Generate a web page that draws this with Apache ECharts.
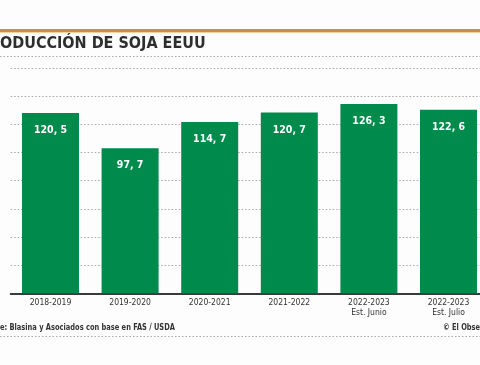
<!DOCTYPE html>
<html><head><meta charset="utf-8">
<script src="https://cdn.jsdelivr.net/npm/echarts@6/dist/echarts.min.js"></script>
<style>html,body{margin:0;padding:0;background:#fdfdfd;overflow:hidden;width:480px;height:365px;}#c{width:492px;height:365px;}</style>
</head><body><div id="c"></div>
<script>
const categories = ['2018-2019','2019-2020','2020-2021','2021-2022','2022-2023\nEst. Junio','2022-2023\nEst. Julio'];
const production = [120.5, 97.7, 114.7, 120.7, 126.3, 122.6];
const titleText = 'PRODUCCIÓN DE SOJA EEUU';
const sourceText = 'Fuente: Blasina y Asociados con base en FAS / USDA';
const creditText = '© El Observador';

const FONT = '"DejaVu Sans Condensed","Liberation Sans Narrow","Liberation Sans",sans-serif';
function tw(t, font){const c=document.createElement('canvas').getContext('2d');c.font=font;return c.measureText(t).width;}
const titleFont = 'bold 16px ' + FONT;
const srcFont = 'bold 9.5px ' + FONT;
const srcScale = 0.78;
const titleX = -tw('PR', titleFont);
const srcX = -tw('Fuent', srcFont) * srcScale;

const chart = echarts.init(document.getElementById('c'), null, {renderer:'canvas'});
chart.setOption({
  backgroundColor: '#fdfdfd',
  animation: false,
  grid: {left: 10.7, width: 477.6, top: 68, height: 225.3, containLabel: false},
  xAxis: {
    type: 'category', data: categories,
    axisLine: {show: true, lineStyle: {color: '#3a3a3a', width: 2}},
    axisTick: {show: false},
    axisLabel: {color: '#333', fontFamily: FONT, fontSize: 8.5, lineHeight: 9.5, margin: 5, interval: 0}
  },
  yAxis: [
    {type: 'value', min: 4, max: 149.5, show: false, splitLine: {show: false}},
    {type: 'value', min: 0, max: 8, interval: 1, axisLabel: {show: false}, axisLine: {show: false}, axisTick: {show: false},
     splitLine: {show: true, lineStyle: {color: '#a8a8a8', type: [1.5, 2], width: 1}}}
  ],
  series: [{
    type: 'bar', data: production, yAxisIndex: 0, barWidth: 57,
    itemStyle: {color: '#008a4b'},
    label: {show: true, position: 'insideTop', distance: 12, color: '#fff', fontFamily: FONT, fontWeight: 'bold', fontSize: 10.5,
      formatter: p => p.value.toFixed(1).replace('.', ', ')}
  }],
  graphic: [
    {type: 'rect', shape: {x: 0, y: 29, width: 492, height: 3}, style: {fill: '#d48a3e'}},
    {type: 'rect', shape: {x: 0, y: 32, width: 492, height: 1}, style: {fill: '#f3cfa3'}},
    {type: 'text', x: titleX, y: 44, style: {text: titleText, font: titleFont, fill: '#2e2e2e', textVerticalAlign: 'middle'}},
    {type: 'line', shape: {x1: 0, y1: 56.5, x2: 492, y2: 56.5}, style: {stroke: '#a8a8a8', lineWidth: 1, lineDash: [1.5, 2]}},
    {type: 'text', x: srcX, y: 328, scaleX: srcScale, style: {text: sourceText, font: srcFont, fill: '#333', textVerticalAlign: 'middle'}},
    {type: 'text', x: 443, y: 328, scaleX: srcScale, style: {text: creditText, font: srcFont, fill: '#333', textVerticalAlign: 'middle'}},
    {type: 'line', shape: {x1: 0, y1: 336.5, x2: 492, y2: 336.5}, style: {stroke: '#a8a8a8', lineWidth: 1, lineDash: [1.5, 2]}}
  ]
});
</script></body></html>
